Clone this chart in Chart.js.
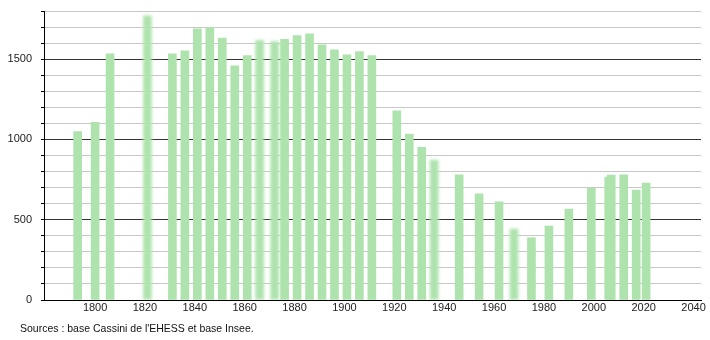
<!DOCTYPE html>
<html>
<head>
<meta charset="utf-8">
<script src="https://cdn.jsdelivr.net/npm/chart.js@4/dist/chart.umd.min.js"></script>
<style>
  html, body { margin: 0; padding: 0; background: #fff; }
  #wrap { position: relative; width: 710px; height: 340px; }
  #note {
    position: absolute; left: 20px; top: 322px;
    font: 10.5px "Liberation Sans", Arial, sans-serif; color: #111;
  }
</style>
</head>
<body>
<div id="wrap">
  <canvas id="c" width="710" height="340"></canvas>
  <div id="note">Sources : base Cassini de l'EHESS et base Insee.</div>
</div>
<script>
// recensements (années nettes)
var years = [1793, 1800, 1806, 1831, 1836, 1841, 1846, 1851, 1856, 1861,
  1876, 1881, 1886, 1891, 1896, 1901, 1906, 1911, 1921, 1926, 1931,
  1946, 1954, 1962, 1975, 1982, 1990, 1999, 2006, 2007, 2012, 2017, 2021];
var pop = [1049, 1107, 1533, 1533, 1552, 1689, 1697, 1632, 1458, 1523,
  1624, 1647, 1658, 1589, 1558, 1527, 1547, 1523, 1178, 1034, 951,
  779, 661, 611, 388, 461, 566, 696, 766, 778, 779, 685, 728];

// années floues
var yearsBlur = [1821, 1866, 1872, 1936, 1968];
var popBlur = [1770, 1618, 1610, 872, 442];

var xTicks = [1800, 1820, 1840, 1860, 1880, 1900, 1920, 1940, 1960, 1980, 2000, 2020, 2040];

var GREEN = '#afe3ae';

function pts(xs, ys) {
  return xs.map(function (x, i) { return { x: x, y: ys[i] }; });
}

var blurPlugin = {
  id: 'blurBars',
  beforeDatasetDraw: function (chart, args) {
    if (args.index === 1) chart.ctx.filter = 'blur(1.6px)';
  },
  afterDatasetDraw: function (chart, args) {
    if (args.index === 1) chart.ctx.filter = 'none';
  }
};

new Chart(document.getElementById('c'), {
  type: 'bar',
  data: {
    datasets: [
      { data: pts(years, pop), backgroundColor: GREEN, barThickness: 8 },
      { data: pts(yearsBlur, popBlur), backgroundColor: GREEN, barThickness: 8 }
    ]
  },
  options: {
    responsive: false,
    animation: false,
    grouped: false,
    layout: { padding: { top: 11, right: 9, left: 0, bottom: 0 } },
    plugins: { legend: { display: false }, tooltip: { enabled: false } },
    scales: {
      x: {
        type: 'linear',
        offset: false,
        min: 1779.5,
        max: 2043,
        afterBuildTicks: function (s) {
          s.ticks = xTicks.map(function (v) { return { value: v }; });
        },
        afterFit: function (s) { s.height = 40; },
        grid: { display: false, drawTicks: false },
        border: { display: true, color: '#000', width: 1 },
        ticks: {
          autoSkip: false, maxRotation: 0, padding: 1,
          color: '#222',
          font: { family: 'Liberation Sans, Arial, sans-serif', size: 11 },
          callback: function (v) { return String(v); }
        }
      },
      y: {
        min: 0,
        max: 1800,
        afterFit: function (s) { s.width = 44; s.paddingTop = 0; s.paddingBottom = 0; },
        grid: {
          color: function (c) { return c.tick && c.tick.value % 500 === 0 ? '#333' : '#c8c8c8'; },
          tickColor: '#000',
          tickLength: 3
        },
        border: { display: true, color: '#000', width: 1 },
        ticks: {
          stepSize: 100, autoSkip: false, padding: 9,
          color: '#222',
          font: { family: 'Liberation Sans, Arial, sans-serif', size: 11 },
          callback: function (v) { return v % 500 === 0 ? String(v) : ''; }
        }
      }
    }
  },
  plugins: [blurPlugin]
});
</script>
</body>
</html>
